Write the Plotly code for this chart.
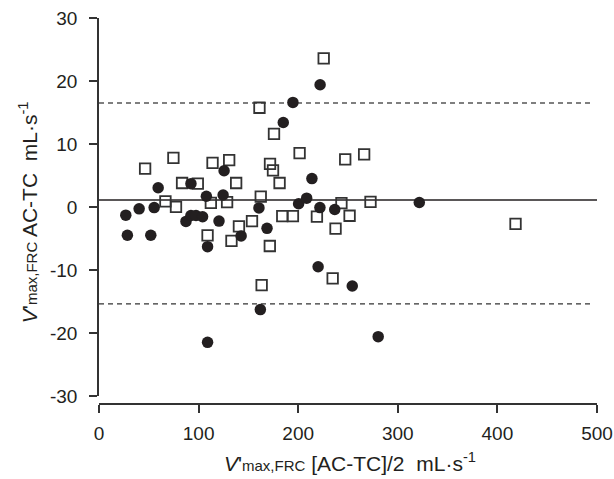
import plotly.graph_objects as go

# filled circles
circle_x = [26.9, 28.5, 40.3, 52.0, 55.4, 59.4, 87.3, 92.3, 92.3, 97.4, 104.0,
            107.8, 109.0, 109.0, 120.5, 124.6, 125.6, 142.7, 160.6, 162.0, 168.7,
            185.0, 194.7, 200.4, 208.5, 213.8, 220.0, 221.8, 222.0, 236.7, 254.3,
            280.3, 321.6]
circle_y = [-1.3, -4.5, -0.3, -4.5, -0.1, 3.05, -2.3, -1.35, 3.7, -1.35, -1.55,
            1.7, -6.3, -21.5, -2.25, 1.9, 5.75, -4.6, -0.15, -16.3, -3.4,
            13.4, 16.6, 0.5, 1.4, 4.5, -9.5, -0.1, 19.4, -0.4, -12.55,
            -20.6, 0.7]

# open squares
square_x = [46.3, 66.7, 74.7, 77.3, 83.4, 99.2, 109.0, 112.3, 114.0, 130.7, 128.6,
            133.0, 137.7, 140.5, 153.6, 161.1, 162.4, 163.3, 171.5, 171.7, 174.7,
            175.7, 181.3, 184.0, 194.7, 201.4, 218.8, 225.6, 234.6, 237.5, 243.4,
            247.2, 251.6, 266.2, 272.6, 418.2]
square_y = [6.1, 0.9, 7.8, 0.0, 3.8, 3.7, -4.5, 0.65, 7.0, 7.45, 0.75,
            -5.4, 3.8, -3.1, -2.25, 15.75, 1.65, -12.4, -6.2, 6.85, 5.8,
            11.6, 3.8, -1.45, -1.45, 8.55, -1.55, 23.6, -11.35, -3.45, 0.6,
            7.55, -1.4, 8.35, 0.8, -2.7]

mean_diff = 1.1
upper_loa = 16.5
lower_loa = -15.4

x_ticks = [0, 100, 200, 300, 400, 500]
y_ticks = [-30, -20, -10, 0, 10, 20, 30]
y_labels = ["-30", "-20", "-10", "0", "10", "20", "30"]

ink = "#231f20"
font = "Liberation Sans, Arial, sans-serif"

fig = go.Figure()

fig.add_trace(go.Scatter(
    x=square_x, y=square_y, mode="markers",
    marker=dict(symbol="square-open", size=10.5, color="#333333", line=dict(width=1.8)),
    showlegend=False,
))

fig.add_trace(go.Scatter(
    x=circle_x, y=circle_y, mode="markers",
    marker=dict(symbol="circle", size=11.5, color=ink),
    showlegend=False,
))

fig.add_shape(type="line", x0=0, x1=500, y0=mean_diff, y1=mean_diff,
              xref="x", yref="y", line=dict(color=ink, width=1.5), layer="below")
fig.add_shape(type="line", x0=0, x1=497, y0=upper_loa, y1=upper_loa, xref="x", yref="y",
              line=dict(color="#555555", width=1.5, dash="5px,4px"), layer="below")
fig.add_shape(type="line", x0=0, x1=497, y0=lower_loa, y1=lower_loa, xref="x", yref="y",
              line=dict(color="#333333", width=1.3, dash="5px,4px"), layer="below")

sub = "<span style='font-size:15px'>max,FRC</span>"

fig.add_annotation(
    text="<i>V</i>'" + sub + " [AC-TC]/2\u00a0\u00a0mL·s<sup>-1</sup>",
    xref="paper", yref="paper", x=0.504, y=-0.150,
    xanchor="center", yanchor="middle", showarrow=False, font=dict(size=21),
)
fig.add_annotation(
    text="<i>V</i>'" + sub + " AC-TC\u00a0\u00a0mL·s<sup>-1</sup>",
    xref="paper", yref="paper", x=-0.1426, y=0.497, textangle=-90,
    xanchor="center", yanchor="middle", showarrow=False, font=dict(size=21),
)

fig.update_layout(
    width=614,
    height=479,
    margin=dict(l=99, r=17, t=18, b=75),
    plot_bgcolor="white",
    paper_bgcolor="white",
    font=dict(family=font, color=ink, size=19),
    xaxis=dict(
        range=[0, 500], tickvals=x_ticks, automargin=False,
        showgrid=False, zeroline=False, showline=True, linecolor="#333333", linewidth=1.5,
        ticks="outside", ticklen=8, tickwidth=1.5, tickcolor="#333333",
        anchor="free", position=0, ticklabelstandoff=4, ticklabeloverflow="allow",
    ),
    yaxis=dict(
        range=[-30, 30], tickvals=y_ticks, ticktext=y_labels, automargin=False,
        domain=[0.021, 1],
        showgrid=False, zeroline=False, showline=True, linecolor="#333333", linewidth=1.5,
        ticks="outside", ticklen=8, tickwidth=1.5, tickcolor="#333333",
        ticklabelstandoff=8, ticklabeloverflow="allow",
    ),
)

# drop the default 8px page margin so the figure sits at the window's corner
fig.write_html("out.html", config={"displayModeBar": False},
               post_script="document.body.style.margin='0';")
